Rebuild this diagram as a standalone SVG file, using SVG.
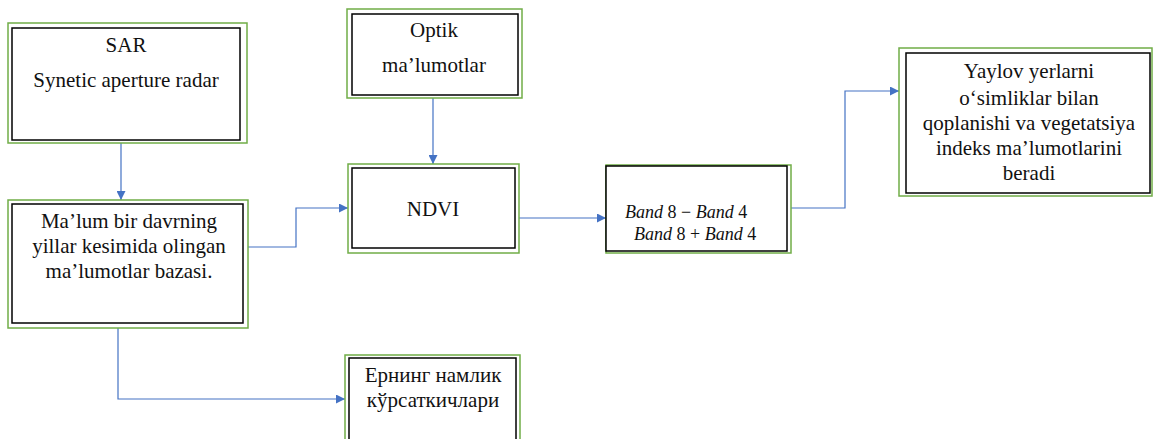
<svg xmlns="http://www.w3.org/2000/svg" width="1153" height="439" viewBox="0 0 1153 439">
<defs>
<style>
.outer{fill:none;stroke:#70AD47;stroke-width:1.5}
.inner{fill:#fff;stroke:#000;stroke-width:1.5}
.t{font-family:"Liberation Serif","Times New Roman",serif;font-size:21px;fill:#111;text-anchor:middle}
.f{font-family:"Liberation Serif","Times New Roman",serif;font-size:18px;fill:#111}
.c{fill:none;stroke:#4472C4;stroke-width:1.2}
</style>
<marker id="ah" viewBox="0 0 10 10" refX="10" refY="5" markerWidth="9" markerHeight="9" markerUnits="userSpaceOnUse" orient="auto">
<path d="M0,0 L10,5 L0,10 z" fill="#4472C4"/>
</marker>
</defs>
<rect width="1153" height="439" fill="#fff"/>
<g id="connectors">
<path class="c" d="M121,143 V200" marker-end="url(#ah)"/>
<path class="c" d="M248,247 H296 V208 H348" marker-end="url(#ah)"/>
<path class="c" d="M433,98 V164" marker-end="url(#ah)"/>
<path class="c" d="M519,218 H606" marker-end="url(#ah)"/>
<path class="c" d="M791,208 H845 V91 H899" marker-end="url(#ah)"/>
<path class="c" d="M118,328 V399 H345" marker-end="url(#ah)"/>
</g>
<g id="sar">
<rect class="outer" x="8" y="23" width="239" height="120"/>
<rect class="inner" x="12" y="28" width="228" height="112"/>
<text class="t" x="126" y="52">SAR</text>
<text class="t" x="126" y="87">Synetic aperture radar</text>
</g>
<g id="database">
<rect class="outer" x="8" y="200" width="240" height="128"/>
<rect class="inner" x="12" y="204" width="231" height="119"/>
<text class="t" x="129" y="228">Ma’lum bir davrning</text>
<text class="t" x="129" y="253">yillar kesimida olingan</text>
<text class="t" x="129" y="278">ma’lumotlar bazasi.</text>
</g>
<g id="optik">
<rect class="outer" x="347" y="9" width="175" height="89"/>
<rect class="inner" x="352" y="14" width="166" height="81"/>
<text class="t" x="434" y="37">Optik</text>
<text class="t" x="434" y="72">ma’lumotlar</text>
</g>
<g id="ndvi">
<rect class="outer" x="348" y="164" width="171" height="89"/>
<rect class="inner" x="352" y="168" width="163" height="80"/>
<text class="t" x="433" y="216">NDVI</text>
</g>
<g id="formula">
<rect class="outer" x="606" y="165" width="185" height="88"/>
<rect class="inner" x="606" y="166" width="181" height="85"/>
<text class="f" x="625" y="218"><tspan font-style="italic">Band</tspan> 8 − <tspan font-style="italic">Band</tspan> 4</text>
<text class="f" x="634" y="240"><tspan font-style="italic">Band</tspan> 8 + <tspan font-style="italic">Band</tspan> 4</text>
</g>
<g id="result">
<rect class="outer" x="899" y="48" width="253" height="148"/>
<rect class="inner" x="906" y="53" width="244" height="140"/>
<text class="t" x="1029" y="78">Yaylov yerlarni</text>
<text class="t" x="1029" y="105">o‘simliklar bilan</text>
<text class="t" x="1029" y="130">qoplanishi va vegetatsiya</text>
<text class="t" x="1029" y="155">indeks ma’lumotlarini</text>
<text class="t" x="1029" y="180">beradi</text>
</g>
<g id="moisture">
<rect class="outer" x="345" y="355" width="175" height="95"/>
<rect class="inner" x="349" y="358" width="167" height="92"/>
<text class="t" x="433" y="382">Ернинг намлик</text>
<text class="t" x="433" y="407">кўрсаткичлари</text>
</g>
</svg>
